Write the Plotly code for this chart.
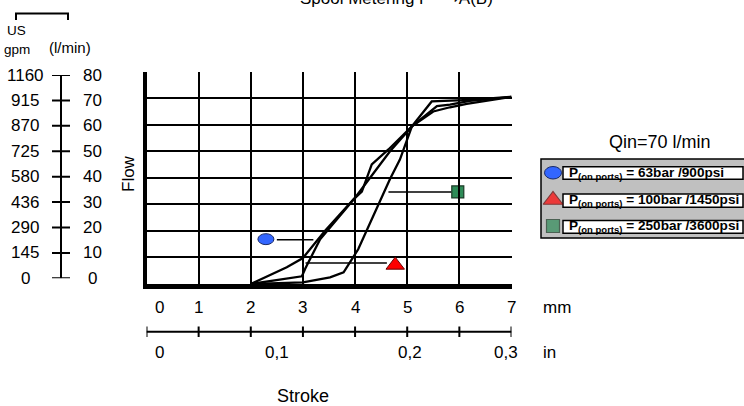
import plotly.graph_objects as go

# ---------------- data ----------------
stroke_mm_ticks = [0, 1, 2, 3, 4, 5, 6, 7]
stroke_in_labels = ["0", "0,1", "0,2", "0,3"]
stroke_in_pos_mm = [0.25, 2.5, 5.05, 6.9]
flow_lpm_ticks = [0, 10, 20, 30, 40, 50, 60, 70, 80]
flow_gpm_labels = ["0", "145", "290", "436", "580", "725", "870", "915", "1160"]

# curve: 63 bar / 900 psi
curve_63_x = [2.0, 2.69, 3.0, 3.42, 3.97, 4.13, 4.32, 4.64, 5.09, 5.57, 5.82, 6.2, 7.0]
curve_63_y = [0, 6.3, 9.8, 20.0, 31.9, 34.8, 45.1, 50.7, 59.4, 67.0, 67.6, 69.0, 70.5]
# curve: 100 bar / 1450 psi
curve_100_x = [2.0, 2.98, 3.05, 3.33, 4.0, 4.67, 5.09, 5.5, 5.82, 6.14, 7.0]
curve_100_y = [0, 2.9, 6.0, 16.9, 32.5, 50.0, 59.4, 65.0, 66.6, 67.9, 70.5]
# curve: 250 bar / 3600 psi
curve_250_x = [2.0, 3.0, 3.52, 3.78, 4.06, 4.67, 4.86, 5.09, 5.47, 6.2, 7.0]
curve_250_y = [0, 0.6, 2.5, 4.4, 13.1, 39.6, 46.9, 59.4, 68.8, 69.4, 70.5]

# pointer markers (x in mm, y in l/min) and their leader lines
circle_pt = (2.29, 16.9)
circle_leader_x = [2.5, 3.2]
circle_leader_y = [16.7, 16.7]
triangle_pt = (4.77, 7.1)
triangle_leader_x = [3.05, 4.61]
triangle_leader_y = [7.9, 7.9]
square_pt = (5.97, 34.7)
square_leader_x = [4.64, 5.85]
square_leader_y = [34.7, 34.7]

legend_labels = [
    "<b>P<sub>(on ports)</sub> = 63bar /900psi</b>",
    "<b>P<sub>(on ports)</sub> = 100bar /1450psi</b>",
    "<b>P<sub>(on ports)</sub> = 250bar /3600psi</b>",
]
title_text = "Spool Metering P \u27f6A(B)"
qin_text = "Qin=70 l/min"

BLUE = "#3366FF"
RED = "#FF0000"
GREEN = "#2E8B57"
FONT = "Liberation Sans, Arial, sans-serif"

W, H = 744, 406

fig = go.Figure()

# main curves
for cx, cy in [(curve_63_x, curve_63_y), (curve_100_x, curve_100_y), (curve_250_x, curve_250_y)]:
    fig.add_trace(go.Scatter(x=cx, y=cy, mode="lines", line=dict(color="black", width=2.3),
                             hoverinfo="skip"))

# leader lines
for lx, ly in [(circle_leader_x, circle_leader_y), (triangle_leader_x, triangle_leader_y),
               (square_leader_x, square_leader_y)]:
    fig.add_trace(go.Scatter(x=lx, y=ly, mode="lines", line=dict(color="black", width=1.5),
                             hoverinfo="skip"))

# triangle and square pointers
fig.add_trace(go.Scatter(x=[triangle_pt[0]], y=[triangle_pt[1]], mode="markers",
                         marker=dict(symbol="triangle-up", size=16, color=RED,
                                     line=dict(color="#660000", width=1)),
                         cliponaxis=False, hoverinfo="skip"))
fig.add_trace(go.Scatter(x=[square_pt[0]], y=[square_pt[1]], mode="markers",
                         marker=dict(symbol="square", size=12, color=GREEN,
                                     line=dict(color="#1a3a26", width=1.2)),
                         cliponaxis=False, hoverinfo="skip"))

# dummy trace for left scale axis
fig.add_trace(go.Scatter(x=[None], y=[None], xaxis="x", yaxis="y2", hoverinfo="skip"))

# legend symbols in pixel frame (x3/y3)
fig.add_trace(go.Scatter(x=[553, 553], y=[200, 226], xaxis="x3", yaxis="y3", mode="markers",
                         marker=dict(symbol=["triangle-up", "square"], size=[17, 13],
                                     color=[RED, GREEN],
                                     line=dict(color=["#660000", "#1a3a26"], width=1.2)),
                         cliponaxis=False, hoverinfo="skip"))

shapes = []
annotations = []

# ellipse pointer in plot
shapes.append(dict(type="circle", xref="x", yref="y", xsizemode="pixel", ysizemode="pixel",
                   xanchor=circle_pt[0], yanchor=circle_pt[1], x0=-8, x1=8, y0=-5.5, y1=5.5,
                   fillcolor=BLUE, line=dict(color="#1a2a66", width=1)))

# left flow scale (y2)
shapes.append(dict(type="line", xref="x3", yref="y2", x0=61, x1=61, y0=0, y1=80,
                   line=dict(color="black", width=2)))
for v, g in zip(flow_lpm_ticks, flow_gpm_labels):
    shapes.append(dict(type="line", xref="x3", yref="y2", x0=52, x1=70, y0=v, y1=v,
                       line=dict(color="black", width=2)))
    annotations.append(dict(xref="x3", yref="y2", x=25, y=v, text=g, showarrow=False,
                            xanchor="center", yanchor="middle", font=dict(size=17)))
    annotations.append(dict(xref="x3", yref="y2", x=92, y=v, text=str(v), showarrow=False,
                            xanchor="center", yanchor="middle", font=dict(size=17)))

# header of left scale
shapes.append(dict(type="path", xref="x3", yref="y3", path="M 16,20 L 16,13.5 L 68,13.5 L 68,20",
                   line=dict(color="black", width=2)))
annotations.append(dict(xref="x3", yref="y3", x=16.5, y=30.5, text="US", showarrow=False,
                        xanchor="center", yanchor="middle", font=dict(size=13.5)))
annotations.append(dict(xref="x3", yref="y3", x=16.5, y=49.5, text="gpm", showarrow=False,
                        xanchor="center", yanchor="middle", font=dict(size=13.5)))
annotations.append(dict(xref="x3", yref="y3", x=47, y=47, text="(l/min)", showarrow=False,
                        xanchor="left", yanchor="middle", font=dict(size=15)))

# bottom stroke scale
shapes.append(dict(type="line", xref="x", yref="y3", x0=0, x1=7, y0=331.7, y1=331.7,
                   line=dict(color="black", width=2)))
for v in stroke_mm_ticks:
    shapes.append(dict(type="line", xref="x", yref="y3", x0=v, x1=v, y0=326.5, y1=337,
                       line=dict(color="black", width=2)))
    annotations.append(dict(xref="x", yref="y3", x=v, y=307, text=str(v), showarrow=False,
                            xanchor="center", yanchor="middle", xshift=13 if v == 0 else 0,
                            font=dict(size=17)))
for lab, pos in zip(stroke_in_labels, stroke_in_pos_mm):
    annotations.append(dict(xref="x", yref="y3", x=pos, y=352, text=lab, showarrow=False,
                            xanchor="center", yanchor="middle", font=dict(size=17)))
annotations.append(dict(xref="x3", yref="y3", x=541, y=307, text="mm", showarrow=False,
                        xanchor="left", yanchor="middle", font=dict(size=17)))
annotations.append(dict(xref="x3", yref="y3", x=541, y=352, text="in", showarrow=False,
                        xanchor="left", yanchor="middle", font=dict(size=17)))
annotations.append(dict(xref="x3", yref="y3", x=303, y=396, text="Stroke", showarrow=False,
                        xanchor="center", yanchor="middle", font=dict(size=18)))

# Flow label
annotations.append(dict(xref="x3", yref="y3", x=128, y=174, text="Flow", showarrow=False,
                        textangle=-90, xanchor="center", yanchor="middle", font=dict(size=17)))

# title (cut at top) - paper ref so it is not hidden outside an axis range
annotations.append(dict(xref="paper", yref="paper", x=396 / W, y=(H + 1) / H, text=title_text,
                        showarrow=False, xanchor="center", yanchor="middle", font=dict(size=17)))

# legend block
annotations.append(dict(xref="x3", yref="y3", x=660, y=141.5, text=qin_text, showarrow=False,
                        xanchor="center", yanchor="middle", font=dict(size=18)))
shapes.append(dict(type="rect", xref="x3", yref="y3", x0=541, x1=760, y0=159, y1=238,
                   fillcolor="#C0C0C0", line=dict(color="black", width=1.5), layer="below"))
rows = [(166.7, 179.3), (194, 207.3), (220.5, 233.3)]
for (y0, y1), lab in zip(rows, legend_labels):
    shapes.append(dict(type="rect", xref="x3", yref="y3", x0=563, x1=743, y0=y0, y1=y1,
                       fillcolor="white", line=dict(color="black", width=1.5), layer="below"))
    annotations.append(dict(xref="x3", yref="y3", x=567, y=(y0 + y1) / 2, text=lab,
                            showarrow=False, xanchor="left", yanchor="middle",
                            font=dict(size=13.6)))
shapes.append(dict(type="circle", xref="x3", yref="y3", x0=544.5, x1=561.5, y0=166.5, y1=179,
                   fillcolor=BLUE, line=dict(color="#1a2a66", width=1)))

fig.update_layout(
    width=W, height=H,
    margin=dict(l=0, r=0, t=0, b=0),
    paper_bgcolor="white", plot_bgcolor="rgba(0,0,0,0)",
    showlegend=False,
    font=dict(family=FONT, size=16, color="black"),
    xaxis=dict(domain=[146.5 / W, 511.5 / W], range=[0, 7], dtick=1, tick0=0,
               showgrid=True, gridcolor="black", gridwidth=2, zeroline=False,
               showticklabels=False, ticks="", showline=True, linecolor="black", linewidth=5,
               fixedrange=True, anchor="y"),
    yaxis=dict(domain=[(H - 284) / H, (H - 71.7) / H], range=[0, 80], dtick=10, tick0=0,
               showgrid=True, gridcolor="black", gridwidth=2, zeroline=False,
               showticklabels=False, ticks="", showline=True, linecolor="black", linewidth=4,
               fixedrange=True, anchor="x"),
    yaxis2=dict(domain=[(H - 278.3) / H, (H - 75) / H], range=[0, 80], visible=False,
                anchor="free", position=0, fixedrange=True),
    xaxis3=dict(domain=[0, 1], range=[0, W], visible=False, anchor="y3", fixedrange=True),
    yaxis3=dict(domain=[0, 1], range=[H, 0], visible=False, anchor="x3", fixedrange=True),
    shapes=shapes,
    annotations=annotations,
)

fig.write_html("out.html", config={"displayModeBar": False},
               post_script="document.body.style.margin='0px';document.body.style.overflow='hidden';")
